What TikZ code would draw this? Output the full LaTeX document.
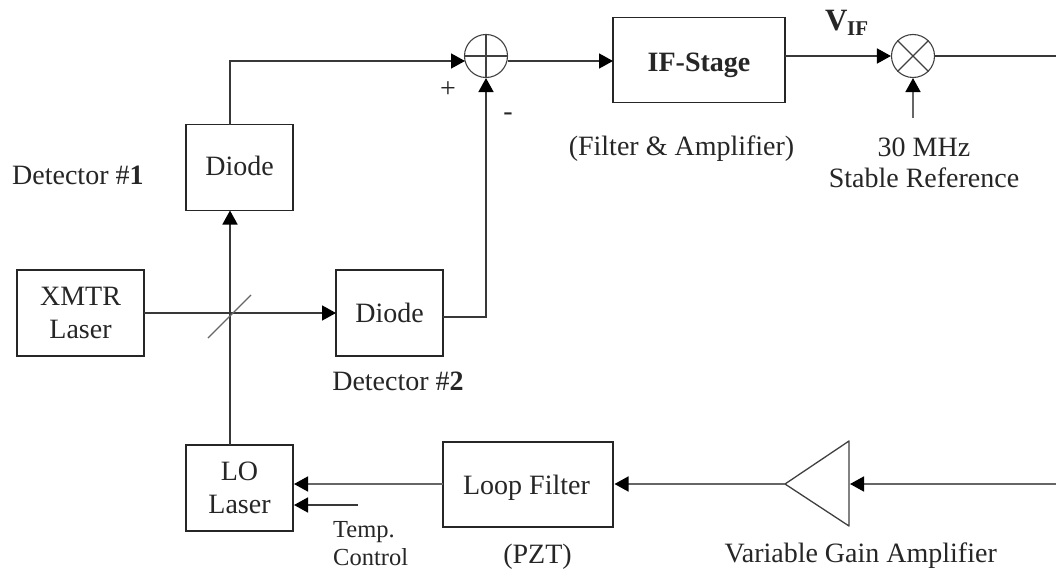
\documentclass[tikz,border=0pt]{standalone}
\usepackage{fontspec}
\setmainfont{Liberation Serif}
\usetikzlibrary{arrows.meta}
\tikzset{
 x=1pt,y=-1pt,
 blockbox/.style={draw=black!85,line width=1.4pt,inner sep=0pt,font=\fontsize{28}{33}\selectfont,text=black!85},
 stackbox/.style={blockbox,align=center},
 lbl/.style={align=center,inner sep=0pt,font=\fontsize{28}{31}\selectfont,text=black!85},
 small/.style={align=left,inner sep=0pt,font=\fontsize{24.5}{28}\selectfont,text=black!85},
 wire/.style={draw=black!78,line width=1.6pt},
 arr/.style={wire,-{Triangle[length=14pt,width=15pt,color=black]}},
 junction/.style={circle,draw=black!75,line width=1.1pt,minimum size=43pt,inner sep=0pt},
 thin part/.style={draw=black!75,line width=1.1pt},
}
\newcommand{\basedrop}[2]{\raisebox{-#1}[0pt][0pt]{#2}}
\begin{document}
\begin{tikzpicture}
\useasboundingbox (0,0) rectangle (1056,575);
\fill[white] (0,0) rectangle (1056,575);
% blocks
\node[blockbox,minimum width=172pt,minimum height=84.5pt,font=\fontsize{28}{33}\selectfont\bfseries] (if) at (699,60) {\basedrop{12pt}{IF-Stage}};
\node[junction] (sum) at (486,56) {};
\node[junction] (mix) at (913,56) {};
\draw[thin part] (sum.north)--(sum.south) (sum.west)--(sum.east);
\draw[thin part] (mix.north west)--(mix.south east) (mix.north east)--(mix.south west);
\node[blockbox,minimum width=107pt,minimum height=86pt] (d1) at (239.5,167.5) {\basedrop{7.5pt}{Diode}};
\node[blockbox,minimum width=107pt,minimum height=86pt] (d2) at (389.5,313) {\basedrop{9pt}{Diode}};
\node[stackbox,minimum width=127pt,minimum height=86pt] (xmtr) at (80.5,313) {XMTR\\Laser};
\node[stackbox,minimum width=107pt,minimum height=86pt] (lo) at (239.5,488) {LO\\Laser};
\node[blockbox,minimum width=170pt,minimum height=85pt] (lf) at (528,484.5) {\basedrop{9.5pt}{Loop Filter\hspace{3pt}}};
% amplifier
\coordinate (ampa) at (849,441);
\coordinate (ampb) at (849,526);
\coordinate (ampc) at (785,484);
\coordinate (ampin) at (850,484);
\draw[thin part,line width=1.3pt,line join=round] (ampa)--(ampb)--(ampc)--cycle;
% helper points
\coordinate (d1t) at (230,124.5);
\coordinate (d1b) at (230,210.5);
\coordinate (lot) at (230,445);
\coordinate (sumw) at (465,61);
\coordinate (sume) at (508,61);
\coordinate (ifw) at (613,61);
\coordinate (sumk) at (230,61);
\coordinate (d2e) at (443,317);
\coordinate (sumk2) at (486,317);
\coordinate (rightt) at (1056,56);
\coordinate (rightb) at (1056,484);
\coordinate (refin) at (913,118);
\coordinate (tempin) at (358,505);
\coordinate (loa) at (294,484);
\coordinate (lob) at (294,505);
\coordinate (lfw) at (443,484);
\coordinate (lfe) at (614.5,484);
\coordinate (ife) at (785,56);
\coordinate (xe) at (144,313);
\coordinate (d2w) at (336,313);
\coordinate (bsa) at (208,338);
\coordinate (bsb) at (251,295);
% connectors
\draw[arr] (d1t)--(sumk)--(sumw);
\draw[arr] (sume)--(ifw);
\draw[arr] (d2e)--(sumk2)--(sum.south);
\draw[arr] (ife)--(mix.west);
\draw[wire] (mix.east)--(rightt);
\draw[arr,draw=black!60] (refin)--(mix.south);
\draw[arr] (lot)--(d1b);
\draw[arr] (xe)--(d2w);
\draw[thin part,draw=black!60,line width=1.3pt] (bsa)--(bsb);
\draw[arr,draw=black!60] (rightb)--(ampin);
\draw[arr,draw=black!60] (ampc)--(lfe);
\draw[arr,draw=black!60] (lfw)--(loa);
\draw[arr] (tempin)--(lob);
% labels
\node[lbl,anchor=base] (plus) at (448,98) {+};
\node[lbl,anchor=base] (minus) at (508,121) {-};
\node[lbl,anchor=base] (filt) at (681.5,155) {(Filter \& Amplifier)};
\node[lbl,anchor=base west,font=\fontsize{31}{31}\selectfont\bfseries] (vif) at (825,31) {V};
\node[lbl,anchor=base west,font=\fontsize{21}{21}\selectfont\bfseries] (vifs) at (847,36) {IF};
\node[lbl,anchor=base] (ref) at (924,187) {30 MHz\\Stable Reference};
\node[lbl,anchor=base west] (det1) at (12,184) {Detector \#\textbf{1}};
\node[lbl,anchor=base] (det2) at (398,390) {Detector \#\textbf{2}};
\node[small,anchor=base west] (temp) at (333,565) {Temp.\\Control};
\node[lbl,anchor=base] (pzt) at (537.5,563) {(PZT)};
\node[lbl,anchor=base east] (vga) at (997,562) {Variable Gain Amplifier};
\end{tikzpicture}
\end{document}
